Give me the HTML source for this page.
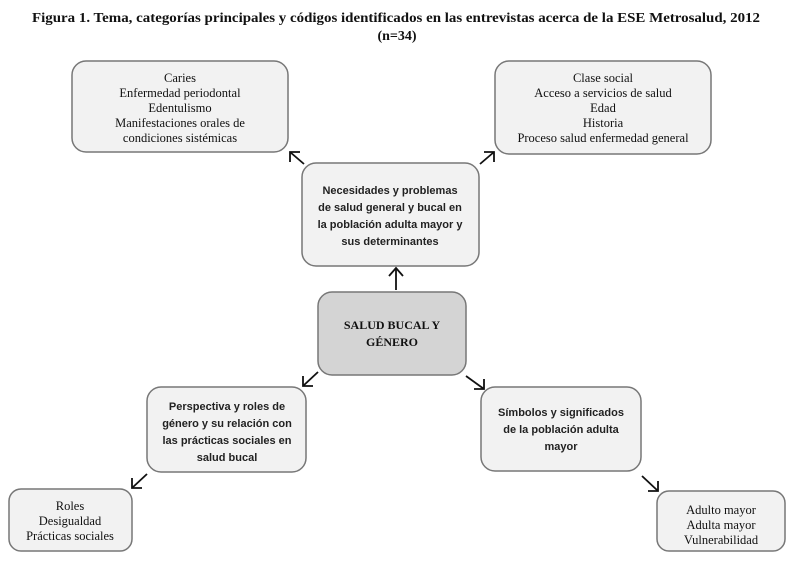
<!DOCTYPE html>
<html><head><meta charset="utf-8"><style>
body{margin:0;background:#fff;}
svg{display:block}
.s{font-family:"Liberation Serif",serif;font-size:12.5px;fill:#111}
.b{font-family:"Liberation Sans",sans-serif;font-size:11px;font-weight:bold;fill:#222}
.t{font-family:"Liberation Serif",serif;font-size:14px;font-weight:bold;fill:#111}
rect{fill:#f2f2f2;stroke:#777;stroke-width:1.5}
line,path.a{stroke:#111;stroke-width:1.8;fill:none}
</style></head><body>
<svg width="795" height="571" viewBox="0 0 795 571">
<text class="t" x="32" y="22" textLength="728" lengthAdjust="spacingAndGlyphs">Figura 1.  Tema, categorías principales y códigos identificados en las entrevistas acerca de la ESE Metrosalud, 2012</text>
<text class="t" x="397" y="40" text-anchor="middle">(n=34)</text>

<rect x="72" y="61" width="216" height="91" rx="14"/>
<g class="s" text-anchor="middle"><text x="180" y="82">Caries</text><text x="180" y="97">Enfermedad periodontal</text><text x="180" y="112">Edentulismo</text><text x="180" y="127">Manifestaciones orales de</text><text x="180" y="142">condiciones sistémicas</text></g>

<rect x="495" y="61" width="216" height="93" rx="14"/>
<g class="s" text-anchor="middle"><text x="603" y="82">Clase social</text><text x="603" y="97">Acceso a servicios de salud</text><text x="603" y="112">Edad</text><text x="603" y="127">Historia</text><text x="603" y="142">Proceso salud enfermedad general</text></g>

<rect x="302" y="163" width="177" height="103" rx="14"/>
<g class="b" text-anchor="middle"><text x="390" y="194">Necesidades y problemas</text><text x="390" y="211">de salud general y bucal en</text><text x="390" y="228">la población adulta mayor y</text><text x="390" y="245">sus determinantes</text></g>

<rect x="318" y="292" width="148" height="83" rx="14" style="fill:#d4d4d4"/>
<g class="s" text-anchor="middle" style="font-weight:bold;font-size:12px"><text x="392" y="329">SALUD BUCAL Y</text><text x="392" y="346">GÉNERO</text></g>

<rect x="147" y="387" width="159" height="85" rx="14"/>
<g class="b" text-anchor="middle"><text x="227" y="410">Perspectiva y roles de</text><text x="227" y="427">género y su relación con</text><text x="227" y="444">las prácticas sociales en</text><text x="227" y="461">salud bucal</text></g>

<rect x="481" y="387" width="160" height="84" rx="14"/>
<g class="b" text-anchor="middle"><text x="561" y="416">Símbolos y significados</text><text x="561" y="433">de la población adulta</text><text x="561" y="450">mayor</text></g>

<rect x="9" y="489" width="123" height="62" rx="12"/>
<g class="s" text-anchor="middle"><text x="70" y="510">Roles</text><text x="70" y="525">Desigualdad</text><text x="70" y="540">Prácticas sociales</text></g>

<rect x="657" y="491" width="128" height="60" rx="12"/>
<g class="s" text-anchor="middle"><text x="721" y="514">Adulto mayor</text><text x="721" y="529">Adulta mayor</text><text x="721" y="544">Vulnerabilidad</text></g>

<line x1="304" y1="164" x2="290" y2="152"/><path class="a" d="M290 162 L290 152 L300 152"/>
<line x1="480" y1="164" x2="494" y2="152"/><path class="a" d="M484 152 L494 152 L494 162"/>
<line x1="396" y1="290" x2="396" y2="268"/><path class="a" d="M389 276 L396 268 L403 276"/>
<line x1="318" y1="372" x2="303" y2="386"/><path class="a" d="M303 376 L303 386 L313 386"/>
<line x1="466" y1="376" x2="484" y2="389"/><path class="a" d="M474 389 L484 389 L484 379"/>
<line x1="147" y1="474" x2="132" y2="488"/><path class="a" d="M132 478 L132 488 L142 488"/>
<line x1="642" y1="476" x2="658" y2="491"/><path class="a" d="M648 491 L658 491 L658 481"/>
</svg>
</body></html>
